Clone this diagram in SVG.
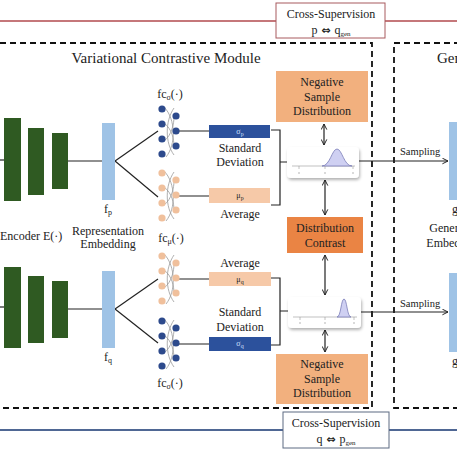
<svg xmlns="http://www.w3.org/2000/svg" width="457" height="458" viewBox="0 0 457 458" font-family="'Liberation Serif', 'DejaVu Serif', serif">
<style>
text{font-family:'Liberation Serif','Times New Roman','DejaVu Serif',serif;fill:#222;font-size:12px}
.c{text-anchor:middle}
.sub{font-size:8px}
.ln{stroke:#222;stroke-width:1.2;fill:none}
.dash{stroke:#111;stroke-width:1.8;fill:none;stroke-dasharray:6 4}
.enc{fill:#2f5a22}
.emb{fill:#9fc3e6}
.nsd{fill:#f2b07e}
.dc{fill:#ea8444}
.sd{fill:#2c519c}
.av{fill:#f6c9a8}
.card{fill:#fff;filter:url(#sh)}
.gauss{fill:#cfd0f2;stroke:#7a7cb8;stroke-width:0.8}
.axis{stroke:#999;stroke-width:0.6;fill:none}
</style>
<defs>
<filter id="sh" x="-20%" y="-30%" width="140%" height="170%">
<feDropShadow dx="1" dy="2" stdDeviation="1.6" flood-color="#000" flood-opacity="0.3"/>
</filter>
<marker id="ah" viewBox="0 0 10 10" refX="9" refY="5" markerWidth="7" markerHeight="7" orient="auto-start-reverse" markerUnits="userSpaceOnUse">
<path d="M1,1 L9,5 L1,9" fill="none" stroke="#222" stroke-width="1.4"/>
</marker>
<g id="nn">
<path d="M2,-2 C14,10 14,36 4,48 M12,-1 C3,12 3,34 12,46 M2,14 C10,20 12,30 12,38 M2,32 C10,26 12,14 12,8" fill="none" stroke="#9a9a9a" stroke-width="0.8"/>
<circle cx="0" cy="0" r="3.6"/><circle cx="0" cy="15" r="3.6"/><circle cx="0" cy="30" r="3.6"/><circle cx="0" cy="45" r="3.6"/>
<circle cx="14" cy="7" r="3.6"/><circle cx="14" cy="22" r="3.6"/><circle cx="14" cy="37" r="3.6"/>
</g>
</defs>
<rect width="457" height="458" fill="#fff"/>

<g id="supervision-top">
<line x1="0" y1="21" x2="276" y2="21" stroke="#b24a4e" stroke-width="1.6"/>
<line x1="385" y1="21" x2="457" y2="21" stroke="#b24a4e" stroke-width="1.6"/>
<rect x="276" y="3" width="109" height="35" fill="#fff" stroke="#a85a5e" stroke-width="1"/>
<text x="331" y="18" class="c">Cross-Supervision</text>
<text x="331" y="34" class="c">p<tspan style="font-family:'DejaVu Sans';font-size:11px;font-weight:bold"> ⇔ </tspan>q<tspan dy="2" style="font-size:7px">gen</tspan></text>
</g>
<g id="supervision-bottom">
<line x1="0" y1="430" x2="283" y2="430" stroke="#4f6794" stroke-width="2"/>
<line x1="389" y1="430" x2="457" y2="430" stroke="#4f6794" stroke-width="2"/>
<rect x="283" y="412" width="106" height="36" fill="#fff" stroke="#5c6b82" stroke-width="1"/>
<text x="336" y="427" class="c">Cross-Supervision</text>
<text x="336" y="443" class="c">q<tspan style="font-family:'DejaVu Sans';font-size:11px;font-weight:bold"> ⇔ </tspan>p<tspan dy="2" style="font-size:7px">gen</tspan></text>
</g>

<g id="vcm-frame">
<rect x="-10" y="43" width="382" height="365" class="dash"/>
<text x="166" y="63" class="c" style="font-size:15px">Variational Contrastive Module</text>
</g>
<g id="gen-frame">
<rect x="394" y="43" width="80" height="365" class="dash"/>
<text x="437" y="63" style="font-size:15px">Generation Module</text>
</g>

<g id="connectors">
<line x1="0" y1="160" x2="4" y2="160" class="ln"/>
<line x1="68" y1="161" x2="102" y2="161" class="ln"/>
<line x1="0" y1="307" x2="4" y2="307" class="ln"/>
<line x1="68" y1="309" x2="102" y2="309" class="ln"/>
<line x1="115" y1="161" x2="158" y2="131" class="ln"/>
<line x1="115" y1="161" x2="158" y2="197" class="ln"/>
<line x1="115" y1="309" x2="158" y2="279" class="ln"/>
<line x1="115" y1="309" x2="158" y2="343" class="ln"/>
<line x1="176" y1="131" x2="209" y2="131" class="ln"/>
<line x1="176" y1="196" x2="209" y2="196" class="ln"/>
<line x1="176" y1="279" x2="209" y2="279" class="ln"/>
<line x1="176" y1="344" x2="209" y2="344" class="ln"/>
<path d="M271,130 H280 V205 H271 M280,162 H288" class="ln"/>
<path d="M271,278 H280 V345 H271 M280,311 H288" class="ln"/>
<line x1="324" y1="124" x2="324" y2="145" class="ln" marker-start="url(#ah)" marker-end="url(#ah)"/>
<line x1="325" y1="180" x2="325" y2="215" class="ln" marker-start="url(#ah)" marker-end="url(#ah)"/>
<line x1="325" y1="255" x2="325" y2="295" class="ln" marker-start="url(#ah)" marker-end="url(#ah)"/>
<line x1="325" y1="330" x2="325" y2="352" class="ln" marker-start="url(#ah)" marker-end="url(#ah)"/>
<line x1="359" y1="161" x2="448" y2="161" class="ln" marker-end="url(#ah)"/>
<line x1="361" y1="312" x2="448" y2="312" class="ln" marker-end="url(#ah)"/>
<text x="400" y="155" style="font-size:10.5px">Sampling</text>
<text x="400" y="307" style="font-size:10.5px">Sampling</text>
</g>

<g id="encoder-p">
<rect x="4" y="118" width="17" height="83" class="enc"/>
<rect x="28" y="128" width="16" height="67" class="enc"/>
<rect x="52" y="133" width="16" height="56" class="enc"/>
</g>
<g id="encoder-q">
<rect x="4" y="267" width="17" height="81" class="enc"/>
<rect x="28" y="276" width="16" height="67" class="enc"/>
<rect x="52" y="281" width="16" height="57" class="enc"/>
</g>
<g id="encoder-label"><text x="0" y="240">Encoder E(·)</text></g>

<g id="emb-p">
<rect x="102" y="123" width="13" height="77" class="emb"/>
<text x="108" y="213" class="c">f<tspan class="sub" dy="2">p</tspan></text>
</g>
<g id="emb-label">
<text x="108" y="235" class="c">Representation</text>
<text x="108" y="248" class="c">Embedding</text>
</g>
<g id="emb-q">
<rect x="102" y="271" width="13" height="77" class="emb"/>
<text x="108" y="361" class="c">f<tspan class="sub" dy="2">q</tspan></text>
</g>

<g id="fc-sigma-p">
<use href="#nn" transform="translate(162,109)" fill="#2d4a8c"/>
<text x="170" y="98" class="c">fc<tspan class="sub" dy="2">σ</tspan><tspan dy="-2">(·)</tspan></text>
</g>
<g id="fc-mu-p"><use href="#nn" transform="translate(162,173)" fill="#f0c09c"/></g>
<g id="fc-mu-label"><text x="171" y="242" class="c">fc<tspan class="sub" dy="2">μ</tspan><tspan dy="-2">(·)</tspan></text></g>
<g id="fc-mu-q"><use href="#nn" transform="translate(162,256)" fill="#f0c09c"/></g>
<g id="fc-sigma-q">
<use href="#nn" transform="translate(162,321)" fill="#2d4a8c"/>
<text x="170" y="387" class="c">fc<tspan class="sub" dy="2">σ</tspan><tspan dy="-2">(·)</tspan></text>
</g>

<g id="sigma-p">
<rect x="209" y="125" width="61" height="13" class="sd"/>
<text x="240" y="134" class="c" style="font-size:8px;fill:#cfe0ff">σ<tspan dy="1.5" style="font-size:6px;fill:#cfe0ff">p</tspan></text>
<text x="240" y="152" class="c">Standard</text>
<text x="240" y="165.5" class="c">Deviation</text>
</g>
<g id="mu-p">
<rect x="209" y="188" width="61" height="15" class="av"/>
<text x="240" y="198" class="c" style="font-size:8px">μ<tspan dy="1.5" style="font-size:6px">p</tspan></text>
<text x="240" y="218" class="c">Average</text>
</g>
<g id="mu-q">
<text x="240" y="267" class="c">Average</text>
<rect x="209" y="272" width="62" height="14" class="av"/>
<text x="240" y="282" class="c" style="font-size:8px">μ<tspan dy="1.5" style="font-size:6px">q</tspan></text>
</g>
<g id="sigma-q">
<text x="240" y="316" class="c">Standard</text>
<text x="240" y="331" class="c">Deviation</text>
<rect x="209" y="337" width="62" height="14" class="sd"/>
<text x="240" y="346" class="c" style="font-size:8px;fill:#cfe0ff">σ<tspan dy="1.5" style="font-size:6px;fill:#cfe0ff">q</tspan></text>
</g>

<g id="dist-p">
<rect x="287" y="147" width="72" height="31" rx="4" class="card"/>
<line x1="292" y1="166" x2="355" y2="166" class="axis"/>
<path d="M322,166 C330,166 332,149 337,149 C342,149 344,166 352,166 Z" class="gauss"/>
<path d="M299,166 v3 M325,166 v3 M353,166 v3" class="axis"/>
<circle cx="299" cy="173" r="0.8" fill="#aaa"/><circle cx="325" cy="173" r="0.8" fill="#aaa"/><circle cx="353" cy="173" r="0.8" fill="#aaa"/>
</g>
<g id="dist-q">
<rect x="288" y="297" width="73" height="31" rx="4" class="card"/>
<line x1="293" y1="317" x2="357" y2="317" class="axis"/>
<path d="M337,317 C341,317 341,299 344,299 C347,299 347,317 351,317 Z" class="gauss"/>
<path d="M300,317 v3 M325,317 v3 M354,317 v3" class="axis"/>
<circle cx="300" cy="323" r="0.8" fill="#aaa"/><circle cx="325" cy="323" r="0.8" fill="#aaa"/><circle cx="354" cy="323" r="0.8" fill="#aaa"/>
</g>

<g id="nsd-top">
<rect x="276" y="71" width="92" height="51" class="nsd"/>
<text x="322" y="86" class="c">Negative</text>
<text x="322" y="100.5" class="c">Sample</text>
<text x="322" y="115" class="c">Distribution</text>
</g>
<g id="dist-contrast">
<rect x="287" y="217" width="76" height="36" class="dc"/>
<text x="325" y="232" class="c">Distribution</text>
<text x="325" y="247" class="c">Contrast</text>
</g>
<g id="nsd-bottom">
<rect x="276" y="354" width="92" height="50" class="nsd"/>
<text x="322" y="368" class="c">Negative</text>
<text x="322" y="383" class="c">Sample</text>
<text x="322" y="397" class="c">Distribution</text>
</g>

<g id="gen-p">
<rect x="449" y="122" width="20" height="78" class="emb"/>
<text x="452" y="213">g<tspan class="sub" dy="2">p</tspan></text>
</g>
<g id="gen-label">
<text x="454" y="232" class="c">Generated</text>
<text x="454" y="247" class="c">Embedding</text>
</g>
<g id="gen-q">
<rect x="449" y="273" width="20" height="79" class="emb"/>
<text x="452" y="365">g<tspan class="sub" dy="2">q</tspan></text>
</g>
</svg>
